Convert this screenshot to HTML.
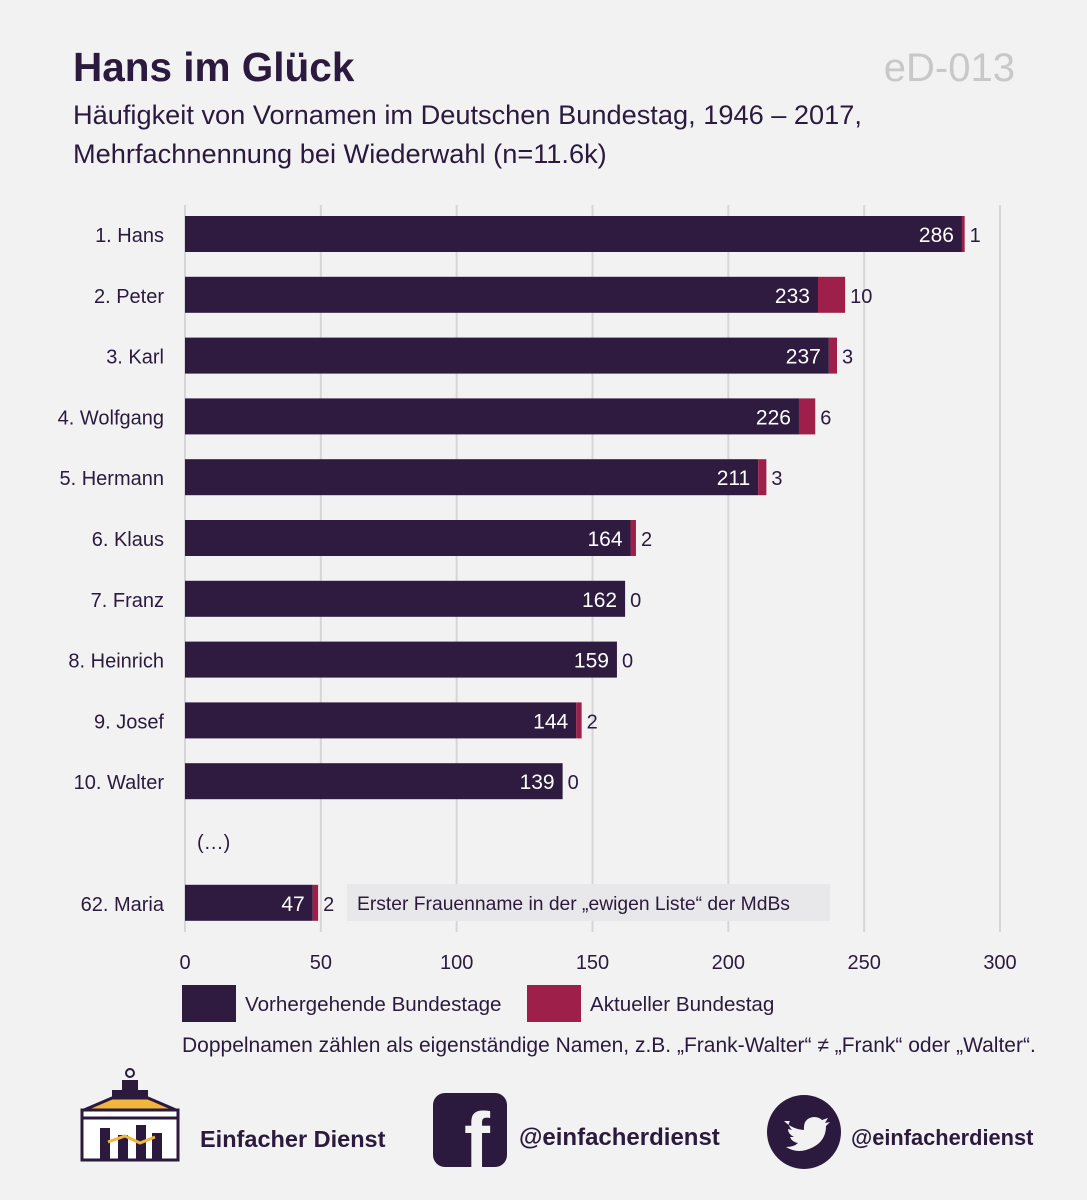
<!DOCTYPE html>
<html><head><meta charset="utf-8">
<style>
html,body{margin:0;padding:0;background:#f2f2f3;}
body{width:1087px;height:1200px;overflow:hidden;font-family:"Liberation Sans",sans-serif;color:#2b1a3d;}
svg{position:absolute;left:0;top:0;}
</style></head>
<body>
<svg id="c" width="1087" height="1200" xmlns="http://www.w3.org/2000/svg">
<text x="73" y="81" font-size="40.5" font-weight="bold" fill="#2b1a3d">Hans im Glück</text>
<text x="1015" y="81" font-size="40" fill="#c8c8c8" text-anchor="end">eD-013</text>
<text x="73" y="124" font-size="27.2" fill="#2b1a3d">Häufigkeit von Vornamen im Deutschen Bundestag, 1946 – 2017,</text>
<text x="73" y="163" font-size="27.2" fill="#2b1a3d">Mehrfachnennung bei Wiederwahl (n=11.6k)</text>
<g id="grid"></g>
<g id="bars"></g>
<g id="ticks"></g>
<text x="197" y="849" font-size="20" fill="#2b1a3d">(…)</text>
<rect x="347" y="884" width="483" height="37" fill="#e8e8ea"/>
<text x="357" y="910" font-size="19.3" fill="#2b1a3d">Erster Frauenname in der „ewigen Liste“ der MdBs</text>
<rect x="182" y="985" width="54" height="37" fill="#2e1b3f"/>
<text x="245" y="1011" font-size="20.6" fill="#2b1a3d">Vorhergehende Bundestage</text>
<rect x="527" y="985" width="54" height="37" fill="#9e1f4a"/>
<text x="590" y="1011" font-size="20.6" fill="#2b1a3d">Aktueller Bundestag</text>
<text x="182" y="1052" font-size="21" fill="#2b1a3d">Doppelnamen zählen als eigenständige Namen, z.B. „Frank-Walter“ ≠ „Frank“ oder „Walter“.</text>
<g>
<circle cx="130" cy="1073" r="4" fill="none" stroke="#2b1a3d" stroke-width="2"/>
<rect x="122" y="1080" width="16" height="10" fill="#2b1a3d"/>
<rect x="112" y="1090" width="36" height="8" fill="#2b1a3d"/>
<polygon points="84,1110 112,1098 148,1098 176,1110" fill="#f2b63d" stroke="#2b1a3d" stroke-width="3"/>
<rect x="82" y="1110" width="96" height="8" fill="#fff" stroke="#2b1a3d" stroke-width="3"/>
<rect x="82" y="1118" width="96" height="42" fill="#fff" stroke="#2b1a3d" stroke-width="3"/>
<rect x="100" y="1128" width="10" height="32" fill="#2b1a3d"/><rect x="118" y="1135" width="10" height="25" fill="#2b1a3d"/><rect x="136" y="1125" width="10" height="35" fill="#2b1a3d"/><rect x="152" y="1133" width="10" height="27" fill="#2b1a3d"/>
<polyline points="108,1142 125,1136 140,1143 155,1137" fill="none" stroke="#f2b63d" stroke-width="3"/>
</g>
<text x="200" y="1147" font-size="23.5" font-weight="bold" fill="#2b1a3d">Einfacher Dienst</text>
<g>
<rect x="433" y="1093" width="74" height="74" rx="12" fill="#2b1a3d"/>
<text x="477" y="1167" font-size="78" font-weight="bold" fill="#f2f2f3" text-anchor="middle">f</text>
</g>
<text x="519" y="1145" font-size="24" font-weight="bold" fill="#2b1a3d">@einfacherdienst</text>
<g>
<circle cx="804" cy="1132" r="37" fill="#2b1a3d"/>
<path d="M784,1121 q8,8 20,9 q-1,-12 10,-13 q5,0 8,3 l6,-2 l-3,5 l5,-1 l-4,4 q0,18 -20,24 q-10,3 -20,-3 q8,0 12,-4 q-6,-1 -8,-6 l4,0 q-6,-3 -6,-8 l4,1 q-5,-5 -2,-9z" fill="#f2f2f3"/>
</g>
<text x="851" y="1145" font-size="21.8" font-weight="bold" fill="#2b1a3d">@einfacherdienst</text>
</svg>
<script>
const names = ["1. Hans","2. Peter","3. Karl","4. Wolfgang","5. Hermann","6. Klaus","7. Franz","8. Heinrich","9. Josef","10. Walter","62. Maria"];
const previousValues = [286,233,237,226,211,164,162,159,144,139,47];
const currentValues = [1,10,3,6,3,2,0,0,2,0,2];
const rowSlots = [0,1,2,3,4,5,6,7,8,9,11];
const tickValues = [0,50,100,150,200,250,300];
const NS="http://www.w3.org/2000/svg";
const x0=185, x1=1000, maxV=300;
function xs(v){return x0+(x1-x0)*v/maxV;}
function ys(slot){return 234+slot*60.8;}
function mk(tag,attrs,parent){const e=document.createElementNS(NS,tag);for(const k in attrs)e.setAttribute(k,attrs[k]);parent.appendChild(e);return e;}
const grid=document.getElementById('grid'),bars=document.getElementById('bars'),ticks=document.getElementById('ticks');
tickValues.forEach(t=>{
  const l=mk('line',{x1:xs(t),x2:xs(t),y1:205,y2:932,stroke:'#d6d6d8','stroke-width':2},grid);
  
  
  const tx=mk('text',{x:xs(t),y:969,'font-size':20,'text-anchor':'middle',fill:'#2b1a3d'},ticks);
  tx.textContent=t;
  
  
});
names.forEach((n,i)=>{
  const cy=ys(rowSlots[i]);
  const lab=mk('text',{x:164,y:cy+8,'font-size':20,'text-anchor':'end',fill:'#2b1a3d'},bars);
  lab.textContent=n;
  
  
  const p=previousValues[i],c=currentValues[i];
  const b=mk('rect',{x:x0,y:cy-18,width:xs(p)-x0,height:36,fill:'#2e1b3f'},bars);
  
  
  const r=mk('rect',{x:xs(p),y:cy-18,width:xs(p+c)-xs(p),height:36,fill:'#9e1f4a'},bars);
  
  
  const pv=mk('text',{x:xs(p)-8,y:cy+8,'font-size':21,'text-anchor':'end',fill:'#fff'},bars);
  pv.textContent=p;
  
  
  const cv=mk('text',{x:xs(p+c)+5,y:cy+8,'font-size':20,fill:'#2b1a3d'},bars);
  cv.textContent=c;
  
  
});
</script>
</body></html>
